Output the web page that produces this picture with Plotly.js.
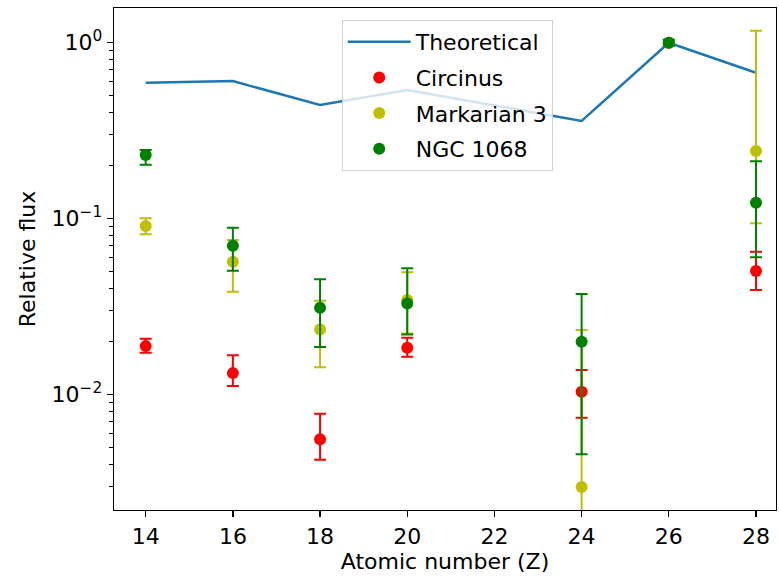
<!DOCTYPE html>
<html>
<head>
<meta charset="utf-8">
<script src="https://cdn.plot.ly/plotly-3.0.1.min.js"></script>
<style>html,body{margin:0;padding:0;background:#fff;}#chart{width:779px;height:577px;}</style>
</head>
<body>
<div id="chart"></div>
<script>
// Atomic numbers
const zTheory = [14, 16, 18, 20, 24, 26, 28];
const fluxTheory = [0.592, 0.605, 0.442, 0.538, 0.359, 1.0, 0.675];

const zObs = [14, 16, 18, 20, 24, 26, 28];

const circinusVal   = [0.0188, 0.0132, 0.00555, 0.0184, 0.01035, 1.0, 0.0503];
const circinusHigh  = [0.0207, 0.0167, 0.00776, 0.0210, 0.01375, 1.0, 0.0648];
const circinusLow   = [0.01725, 0.01115, 0.00425, 0.01637, 0.00736, 1.0, 0.0392];

const markarianVal  = [0.0906, 0.0568, 0.0234, 0.0344, 0.00297, 1.0, 0.242];
const markarianHigh = [0.1002, 0.0755, 0.0341, 0.0494, 0.0232, 1.03, 1.17];
const markarianLow  = [0.0813, 0.0383, 0.01425, 0.0222, 0.0008, 0.97, 0.094];

const ngcVal        = [0.2297, 0.070, 0.0311, 0.0329, 0.0199, 1.0, 0.123];
const ngcHigh       = [0.245, 0.0887, 0.0451, 0.0521, 0.0372, 1.04, 0.212];
const ngcLow        = [0.2023, 0.0505, 0.0186, 0.0219, 0.00456, 0.96, 0.0602];

const yTickVals = [0.01, 0.1, 1];
const yTickText = ['10<sup>−2</sup>', '10<sup>−1</sup>', '10<sup>0</sup>'];
const xTickVals = [14, 16, 18, 20, 22, 24, 26, 28];

const minorVals = [];
[0.001, 0.01, 0.1, 1].forEach(d => { for (let k = 2; k <= 9; k++) minorVals.push(d * k); });

function errTrace(name, vals, hi, lo, color, group) {
  return {
    type: 'scatter', mode: 'markers', name: name, legendgroup: group,
    x: zObs, y: vals,
    marker: {color: color, size: 12},
    error_y: {
      type: 'data', symmetric: false,
      array: hi.map((h, i) => h - vals[i]),
      arrayminus: lo.map((l, i) => vals[i] - l),
      color: color, thickness: 2, width: 6
    }
  };
}

const traces = [
  {type: 'scatter', mode: 'lines', name: 'Theoretical', legendgroup: 'a',
   x: zTheory, y: fluxTheory, line: {color: '#1f77b4', width: 2.5}},
  errTrace('Circinus', circinusVal, circinusHigh, circinusLow, '#ff0000', 'b'),
  errTrace('Markarian 3', markarianVal, markarianHigh, markarianLow, '#bfbf00', 'c'),
  errTrace('NGC 1068', ngcVal, ngcHigh, ngcLow, '#008000', 'd')
];

const font = {family: 'DejaVu Sans, sans-serif', size: 22, color: '#000'};

const layout = {
  width: 779, height: 577,
  margin: {l: 114, r: 3, t: 8, b: 67},
  paper_bgcolor: '#fff', plot_bgcolor: '#fff',
  font: font,
  showlegend: true,
  legend: {
    x: 0.344, y: 0.976, xanchor: 'left', yanchor: 'top',
    bgcolor: 'rgba(255,255,255,0.8)', bordercolor: '#d0d0d0', borderwidth: 1,
    font: font, traceorder: 'grouped', tracegroupgap: 4, itemwidth: 63
  },
  xaxis: {
    range: [13.273, 28.459], tickmode: 'array', tickvals: xTickVals,
    showgrid: false, zeroline: false, showline: true, linecolor: '#000', linewidth: 1.3,
    mirror: true, ticks: 'outside', ticklen: 6, tickcolor: '#000', tickwidth: 1.3,
    tickfont: font,
    title: {text: 'Atomic number (Z)', font: font, standoff: 4}
  },
  yaxis: {
    type: 'log', range: [-2.658, 0.1974], tickmode: 'array',
    tickvals: yTickVals, ticktext: yTickText,
    showgrid: false, zeroline: false, showline: true, linecolor: '#000', linewidth: 1.3,
    mirror: true, ticks: 'outside', ticklen: 6, tickcolor: '#000', tickwidth: 1.3,
    tickfont: font,
    minor: {tickmode: 'array', tickvals: minorVals, ticks: 'outside', ticklen: 3.5, tickcolor: '#000', tickwidth: 1, showgrid: false},
    title: {text: 'Relative flux', font: font, standoff: 10}
  }
};

Plotly.newPlot('chart', traces, layout, {displayModeBar: false, staticPlot: true});
</script>
</body>
</html>
